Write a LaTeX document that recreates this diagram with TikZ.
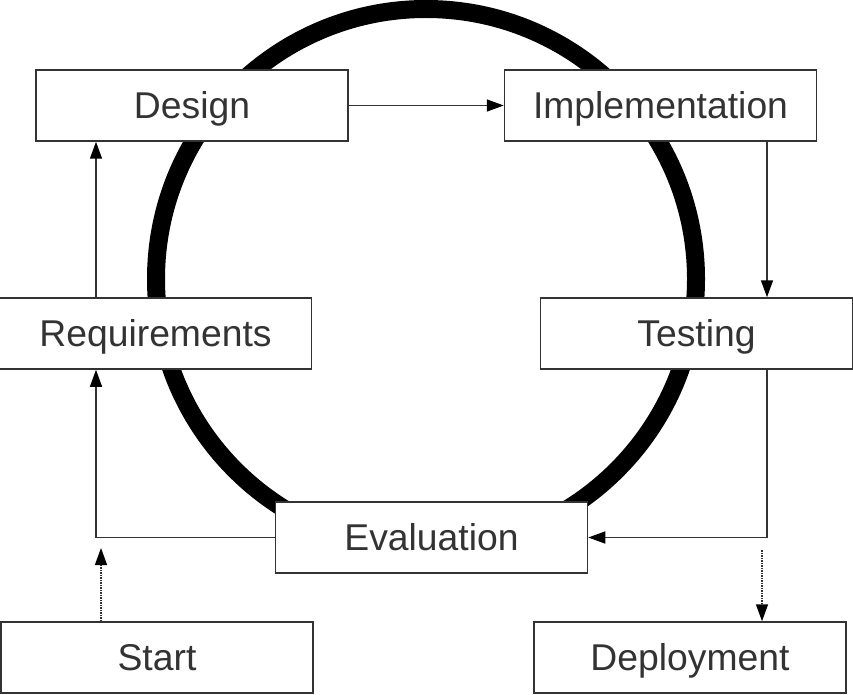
\documentclass[tikz,border=0pt]{standalone}
\usepackage{fontspec}
\setmainfont{Liberation Sans}
\usetikzlibrary{arrows.meta}

\definecolor{ink}{HTML}{333333}

\tikzset{
  stage/.style={draw=ink,line width=1.5pt,fill=white,text=ink,minimum width=312pt,
    minimum height=71pt,inner sep=0pt,text height=26.5pt,text depth=0pt,
    font=\fontsize{37.3}{44}\selectfont},
  link/.style={ink,line width=1.5pt,-{Triangle[length=17pt,width=12pt,color=black]}},
  dotlink/.style={link,densely dotted}
}

\begin{document}
\begin{tikzpicture}[x=1pt,y=-1pt]
  \useasboundingbox (0,0) rectangle (853,695);

  % the cycle ring behind the stages
  \draw[black,line width=18pt] (426,279) circle [radius=270pt];

  \node[stage] (design) at (192,105.5) {Design};
  \node[stage] (impl) at (660.5,105.5) {Implementation};
  \node[stage] (req) at (155.5,333.5) {Requirements};
  \node[stage] (test) at (696.5,333.5) {Testing};
  \node[stage] (eval) at (431.5,537.5) {Evaluation};
  \node[stage] (start) at (157,657.5) {Start};
  \node[stage] (deploy) at (690,657.5) {Deployment};

  \coordinate (rcol) at (767,0);
  \coordinate (lcol) at (96,0);
  \coordinate (startend) at (101,548);
  \coordinate (depbeg) at (762,550);

  \draw[link] (design) -- (impl);
  \draw[link] (impl.south -| rcol) -- (test.north -| rcol);
  \draw[link] (test.south -| rcol) |- (eval);
  \draw[link] (eval) -| (req.south -| lcol);
  \draw[link] (req.north -| lcol) -- (design.south -| lcol);

  \draw[dotlink] (start.north -| startend) -- (startend);
  \draw[dotlink] (depbeg) -- (deploy.north -| depbeg);
\end{tikzpicture}
\end{document}
